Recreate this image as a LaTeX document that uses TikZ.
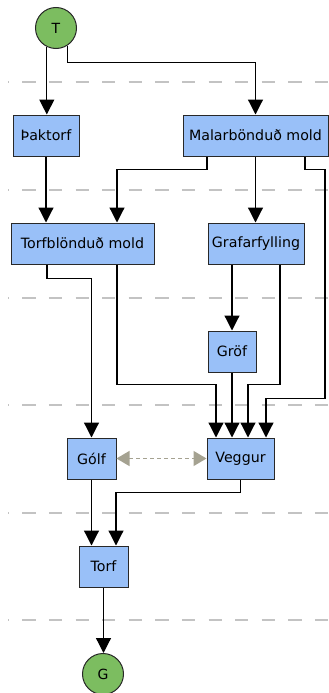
\documentclass[tikz,border=0pt]{standalone}
\usepackage{fontspec}
\setmainfont{DejaVu Sans}
\usetikzlibrary{arrows.meta,calc}
\definecolor{boxfill}{RGB}{153,192,248}
\definecolor{boxline}{RGB}{40,40,40}
\definecolor{circfill}{RGB}{124,189,96}
\definecolor{sepgray}{RGB}{195,195,195}
\definecolor{linkgray}{RGB}{165,162,145}
\tikzset{
  box/.style={draw=boxline, line width=1pt, fill=boxfill, minimum height=41pt, inner sep=0pt, font=\fontsize{14.2}{16}\selectfont, text=black},
  term/.style={circle, draw=boxline, line width=1pt, fill=circfill, minimum size=41pt, inner sep=0pt, font=\fontsize{14}{16}\selectfont},
  arr/.style={draw=black, line width=1.2pt, -{Triangle[length=15pt,width=15pt]}},
  dbl/.style={draw=linkgray, line width=1.4pt, dash pattern=on 4pt off 3pt, {Triangle[length=13pt,width=15pt]}-{Triangle[length=13pt,width=15pt]}},
  sep/.style={draw=sepgray, line width=1.3pt, dash pattern=on 13.3pt off 13.3pt, dash phase=12.3pt}
}
\begin{document}
\begin{tikzpicture}[x=1pt,y=-1pt]
\useasboundingbox (0,0) rectangle (329,693);
% separators
\foreach \yy in {82,190,298,405,513,620}{
  \draw[sep] (8,\yy) -- (329,\yy);
}
% nodes
\node[term] (T) at (56,28) {T};
\node[box, minimum width=66pt] (Thak) at (46,135.5) {Þaktorf};
\node[box, minimum width=145pt] (Malar) at (255.5,135.5) {Malarbönduð mold};
\node[box, minimum width=143pt] (Torfbl) at (82.5,243.5) {Torfblönduð mold};
\node[box, minimum width=96pt] (Graf) at (256,243.5) {Grafarfylling};
\node[box, minimum width=48pt] (Grof) at (232,351.5) {Gröf};
\node[box, minimum width=49pt] (Golf) at (91.5,458.5) {Gólf};
\node[box, minimum width=67pt] (Veggur) at (240.5,458.5) {Veggur};
\node[box, minimum width=49pt] (Torf) at (103.5,566.5) {Torf};
\node[term] (G) at (103,674) {G};
% connectors
\draw[arr] (T.244) -- (T.244 |- Thak.north);
\draw[arr] (T.302) -- ++(0,17) -| (Malar.north);
\draw[arr] (Thak.south) -- (Thak.south |- Torfbl.north);
\draw[arr] ([xshift=-48.5pt]Malar.south) -- ++(0,13) -| ([xshift=34.5pt]Torfbl.north);
\draw[arr] (Malar.south) -- (Malar.south |- Graf.north);
\draw[arr] ([xshift=49.5pt]Malar.south) -- ++(0,13) -| ++(20,229) -| ([xshift=25.5pt]Veggur.north);
\draw[arr] ([xshift=-35.5pt]Torfbl.south) -- ++(0,14) -| (Golf.north);
\draw[arr] ([xshift=34.5pt]Torfbl.south) -- ++(0,120) -| ([xshift=-24.5pt]Veggur.north);
\draw[arr] (Grof.north |- Graf.south) -- (Grof.north);
\draw[arr] ([xshift=24pt]Graf.south) -- ++(0,120) -| ([xshift=7.5pt]Veggur.north);
\draw[arr] (Grof.south) -- (Grof.south |- Veggur.north);
\draw[dbl] (Golf.east) -- (Veggur.west);
\draw[arr] (Golf.south) -- (Golf.south |- Torf.north);
\draw[arr] (Veggur.south) -- ++(0,13) -| ([xshift=12.5pt]Torf.north);
\draw[arr] (Torf.south) -- (Torf.south |- G.north);
\end{tikzpicture}
\end{document}
